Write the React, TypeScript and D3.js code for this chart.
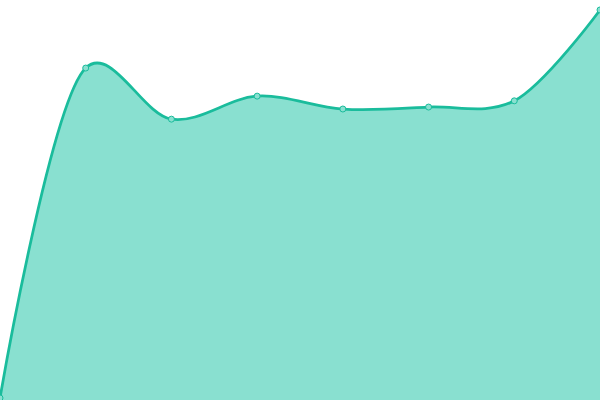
import React from 'react';
import * as d3 from 'd3';

const WIDTH = 600;
const HEIGHT = 400;

const categories = ['1', '2', '3', '4', '5', '6', '7', '8'];
const values = [0, 84.6, 71.5, 77.4, 74.1, 74.6, 76.2, 99.5];

const LINE = '#1abc9c';
const FILL = '#89e0d0';

const App = () => {
  const x = d3.scalePoint<string>().domain(categories).range([0, WIDTH]);
  const y = d3.scaleLinear().domain([0, 100]).range([398, 8]);

  const pts: [number, number][] = categories.map((c, i) => [x(c) as number, y(values[i])]);

  // smooth curve, a little tighter than centripetal catmull-rom
  const curve = d3.curveCatmullRom.alpha(0.25);
  const area = d3.area<[number, number]>()
    .x(d => d[0])
    .y0(HEIGHT)
    .y1(d => d[1])
    .curve(curve);
  const line = d3.line<[number, number]>()
    .x(d => d[0])
    .y(d => d[1])
    .curve(curve);

  return (
    <svg width={WIDTH} height={HEIGHT} style={{ position: 'absolute', left: 0, top: 0, display: 'block' }}>
      <rect width={WIDTH} height={HEIGHT} fill="#fff" />
      <path d={area(pts) ?? ''} fill={FILL} />
      <path d={line(pts) ?? ''} fill="none" stroke={LINE} strokeWidth={2.75} />
      {pts.map((p, i) => (
        <circle key={i} cx={p[0]} cy={p[1]} r={3} fill={FILL} stroke={LINE} strokeWidth={1} />
      ))}
    </svg>
  );
};

export default App;
